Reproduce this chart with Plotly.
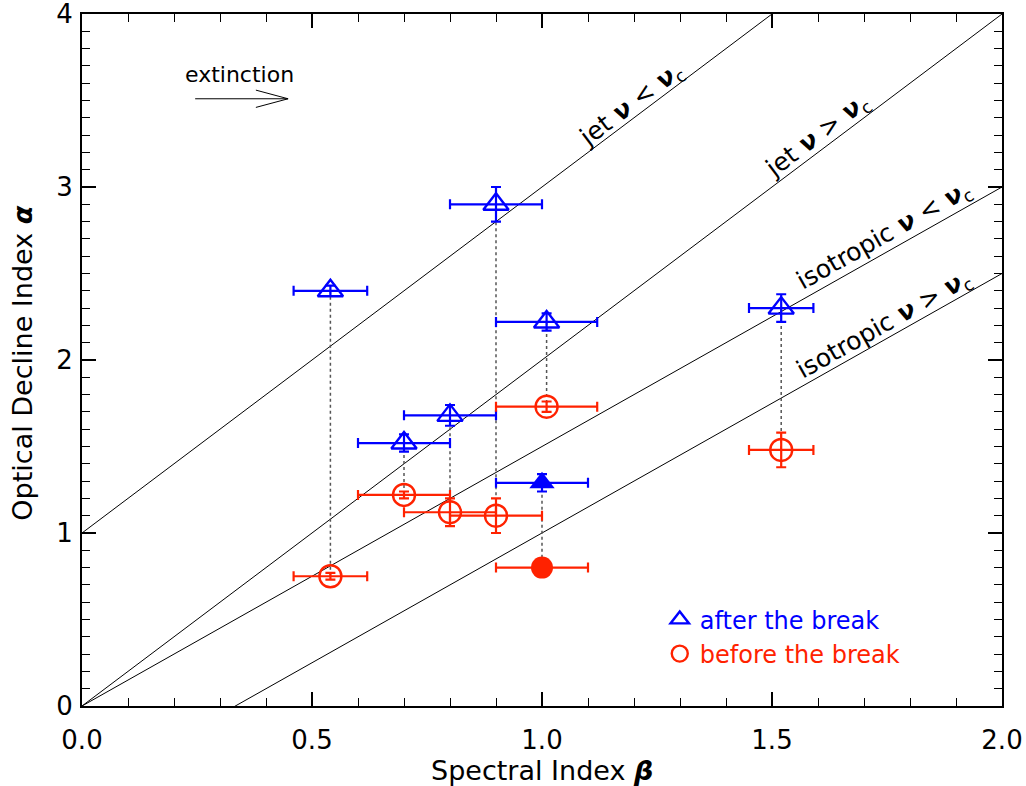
import plotly.graph_objects as go

# ---- data ----
beta_after = [0.54, 0.90, 1.01, 0.80, 0.70, 1.52]
beta_err_after = [0.08, 0.10, 0.11, 0.10, 0.10, 0.07]
alpha_after = [2.40, 2.90, 2.22, 1.68, 1.52, 2.30]
alpha_err_after = [0.03, 0.10, 0.05, 0.06, 0.05, 0.08]

beta_before = [0.54, 0.90, 1.01, 0.80, 0.70, 1.52]
beta_err_before = [0.08, 0.10, 0.11, 0.10, 0.10, 0.07]
alpha_before = [0.75, 1.10, 1.73, 1.12, 1.22, 1.48]
alpha_err_before = [0.02, 0.10, 0.03, 0.08, 0.02, 0.10]

# filled points
beta_f = [1.00]
beta_err_f = [0.10]
alpha_after_f = [1.29]
alpha_err_after_f = [0.05]
alpha_before_f = [0.80]
alpha_err_before_f = [0.03]

# closure relations alpha = a*beta + b
rel_names = ["jet <i><b>ν</b></i> &lt; <i><b>ν</b></i><sub>c</sub>",
             "jet <i><b>ν</b></i> &gt; <i><b>ν</b></i><sub>c</sub>",
             "isotropic <i><b>ν</b></i> &lt; <i><b>ν</b></i><sub>c</sub>",
             "isotropic <i><b>ν</b></i> &gt; <i><b>ν</b></i><sub>c</sub>"]
rel_slope = [2.0, 2.0, 1.5, 1.5]
rel_icpt = [1.0, 0.0, 0.0, -0.5]
rel_label_x = [1.195, 1.600, 1.745, 1.745]
rel_label_y = [3.475, 3.295, 2.715, 2.200]

# extinction arrow (beta, alpha)
ext_x0, ext_x1, ext_y = 0.246, 0.448, 3.51

BLUE = "#0000ff"
RED = "#ff2200"
FONT = "DejaVu Sans"

fig = go.Figure()

# relation lines
for a, b in zip(rel_slope, rel_icpt):
    xs = [0.0, 2.0]
    fig.add_trace(go.Scatter(x=xs, y=[a * v + b for v in xs], mode="lines",
                             line=dict(color="black", width=1), showlegend=False,
                             hoverinfo="skip"))

# dotted connectors
cx, cy = [], []
for b_, a1, a2 in zip(beta_after + beta_f, alpha_after + alpha_after_f,
                      alpha_before + alpha_before_f):
    cx += [b_, b_, None]
    cy += [a1, a2, None]
fig.add_trace(go.Scatter(x=cx, y=cy, mode="lines",
                         line=dict(color="#555555", width=1.5, dash="dot"),
                         showlegend=False, hoverinfo="skip"))

def err(arr, color):
    return dict(type="data", array=arr, color=color, thickness=2.2, width=5)

fig.add_trace(go.Scatter(
    x=beta_after, y=alpha_after, mode="markers",
    name='<span style="color:#0000ff">after the break</span>',
    marker=dict(symbol="triangle-up-open", size=22, color=BLUE, line=dict(width=2.4)),
    error_x=err(beta_err_after, BLUE), error_y=err(alpha_err_after, BLUE)))
fig.add_trace(go.Scatter(
    x=beta_before, y=alpha_before, mode="markers",
    name='<span style="color:#ff2200">before the break</span>',
    marker=dict(symbol="circle-open", size=22, color=RED, line=dict(width=2.4)),
    error_x=err(beta_err_before, RED), error_y=err(alpha_err_before, RED)))
fig.add_trace(go.Scatter(
    x=beta_f, y=alpha_after_f, mode="markers", showlegend=False,
    marker=dict(symbol="triangle-up", size=22, color=BLUE),
    error_x=err(beta_err_f, BLUE), error_y=err(alpha_err_after_f, BLUE)))
fig.add_trace(go.Scatter(
    x=beta_f, y=alpha_before_f, mode="markers", showlegend=False,
    marker=dict(symbol="circle", size=22, color=RED),
    error_x=err(beta_err_f, RED), error_y=err(alpha_err_before_f, RED)))

annotations = []
for name, lx, ly, a in zip(rel_names, rel_label_x, rel_label_y, rel_slope):
    ang = -36.9 if a == 2.0 else -29.4
    annotations.append(dict(x=lx, y=ly, xref="x", yref="y", text=name,
                            showarrow=False, textangle=ang,
                            font=dict(family=FONT, size=25, color="black")))
annotations.append(dict(x=(ext_x0 + ext_x1) / 2 - 0.005, y=ext_y + 0.14, xref="x", yref="y",
                        text="extinction", showarrow=False,
                        font=dict(family=FONT, size=22, color="black")))
# axis titles
annotations.append(dict(x=0.5, y=-0.0925, xref="paper", yref="paper",
                        xanchor="center", yanchor="middle", showarrow=False,
                        text="Spectral Index <b><i>β</i></b>",
                        font=dict(family=FONT, size=27, color="black")))
annotations.append(dict(x=-0.065, y=0.495, xref="paper", yref="paper",
                        xanchor="center", yanchor="middle", showarrow=False,
                        textangle=-90, text="Optical Decline Index <b><i>α</i></b>",
                        font=dict(family=FONT, size=27, color="black")))

shapes = [
    dict(type="line", xref="x", yref="y", x0=ext_x0, x1=ext_x1, y0=ext_y, y1=ext_y,
         line=dict(color="black", width=1)),
    dict(type="line", xref="x", yref="y", x0=ext_x1 - 0.07, x1=ext_x1,
         y0=ext_y + 0.05, y1=ext_y, line=dict(color="black", width=1)),
    dict(type="line", xref="x", yref="y", x0=ext_x1 - 0.07, x1=ext_x1,
         y0=ext_y - 0.05, y1=ext_y, line=dict(color="black", width=1)),
]

axis_common = dict(showgrid=False, zeroline=False, showline=True, linecolor="black",
                   linewidth=2, mirror="ticks", ticks="inside", ticklen=14,
                   tickwidth=1.5, tickcolor="black", automargin=False,
                   ticklabeloverflow="allow",
                   tickfont=dict(family=FONT, size=26, color="black"))

fig.update_layout(
    width=1026, height=786,
    margin=dict(l=82, r=24, t=14, b=80),
    plot_bgcolor="white", paper_bgcolor="white",
    xaxis=dict(range=[0, 2], dtick=0.5, tickformat=".1f", ticklabelstandoff=10,
               minor=dict(dtick=0.1, ticks="inside", ticklen=8, tickcolor="black",
                          tickwidth=1.2),
               **axis_common),
    yaxis=dict(range=[0, 4], dtick=1, ticklabelstandoff=2,
               minor=dict(dtick=0.1, ticks="inside", ticklen=8, tickcolor="black",
                          tickwidth=1.2),
               **axis_common),
    legend=dict(x=0.628, y=0.10, xanchor="left", yanchor="middle",
                bgcolor="rgba(0,0,0,0)", font=dict(family=FONT, size=24),
                itemsizing="trace"),
    annotations=annotations,
    shapes=shapes,
    showlegend=True,
)

# remove the page's default 8px body margin so the figure fills the window
fig.write_html("out.html", config={"displayModeBar": False},
               post_script="document.body.style.margin='0';")
